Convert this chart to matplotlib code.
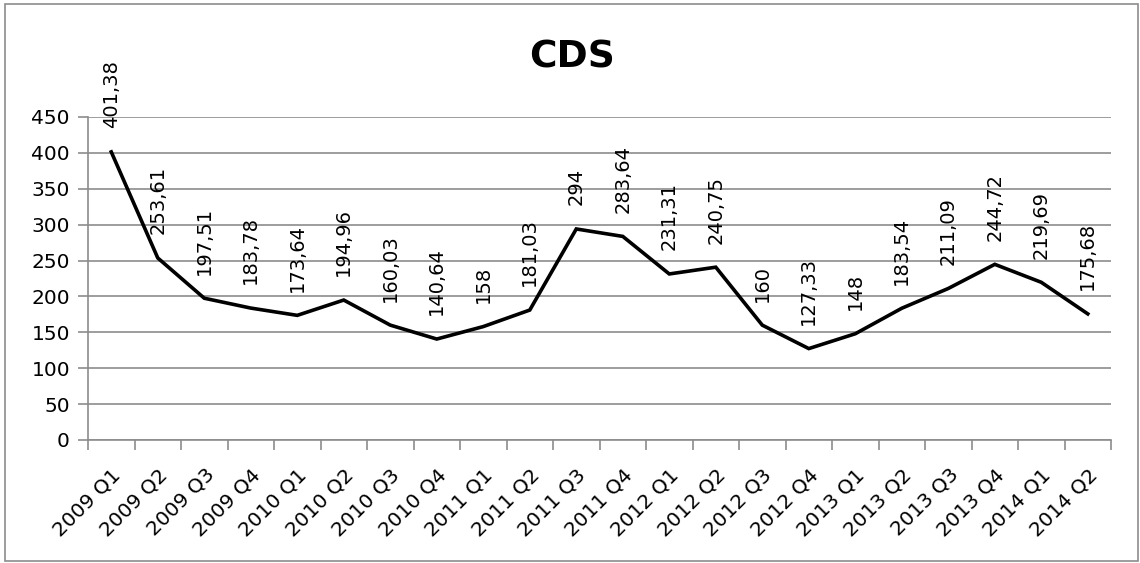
import matplotlib.pyplot as plt
import numpy as np
from matplotlib.patches import Rectangle

quarters = ["2009 Q1", "2009 Q2", "2009 Q3", "2009 Q4", "2010 Q1", "2010 Q2",
            "2010 Q3", "2010 Q4", "2011 Q1", "2011 Q2", "2011 Q3", "2011 Q4",
            "2012 Q1", "2012 Q2", "2012 Q3", "2012 Q4", "2013 Q1", "2013 Q2",
            "2013 Q3", "2013 Q4", "2014 Q1", "2014 Q2"]
cds = [401.38, 253.61, 197.51, 183.78, 173.64, 194.96, 160.03, 140.64, 158, 181.03,
       294, 283.64, 231.31, 240.75, 160, 127.33, 148, 183.54, 211.09, 244.72,
       219.69, 175.68]
y_ticks = [0, 50, 100, 150, 200, 250, 300, 350, 400, 450]


def fmt(v):
    s = f"{v:.2f}".rstrip("0").rstrip(".")
    return s.replace(".", ",")


plt.rcParams["font.family"] = ["DejaVu Sans"]
fig = plt.figure(figsize=(11.4, 5.63), dpi=100)
ax = fig.add_axes([0.0772, 0.2185, 0.8974, 0.5737])

grid_c = "#8c8c8c"
x = np.arange(len(quarters))
ax.plot(x, cds, color="black", lw=2.6, solid_joinstyle="miter", zorder=3)

for xi, v in zip(x, cds):
    ax.annotate(fmt(v), (xi, v), xytext=(0, 17), textcoords="offset points",
                rotation=90, ha="center", va="bottom", fontsize=14,
                annotation_clip=False)

ax.set_xlim(-0.5, len(quarters) - 0.5)
ax.set_ylim(0, 450)
ax.set_yticks(y_ticks)
ax.set_yticklabels([str(t) for t in y_ticks], fontsize=14.5)
ax.yaxis.grid(True, color=grid_c, lw=1.2)
ax.set_axisbelow(True)

ax.set_xticks(x)
ax.set_xticklabels(quarters, rotation=45, ha="right", rotation_mode="anchor",
                   fontsize=14.5)
ax.tick_params(axis="x", length=0, pad=18)
ax.set_xticks(np.arange(-0.5, len(quarters)), minor=True)
ax.tick_params(axis="x", which="minor", length=7, color=grid_c, width=1.2)
ax.tick_params(axis="y", length=7, color=grid_c, width=1.2, pad=6)

for side in ["top", "right"]:
    ax.spines[side].set_visible(False)
for side in ["left", "bottom"]:
    ax.spines[side].set_color(grid_c)
    ax.spines[side].set_linewidth(1.2)

fig.text(0.502, 0.898, "CDS", ha="center", va="center", fontsize=27,
         fontweight="bold")

fig.patches.append(Rectangle((0.004, 0.003), 0.994, 0.99, transform=fig.transFigure,
                             fill=False, edgecolor="#8c8c8c", lw=1.2))

fig.savefig("out.png", dpi=100)
